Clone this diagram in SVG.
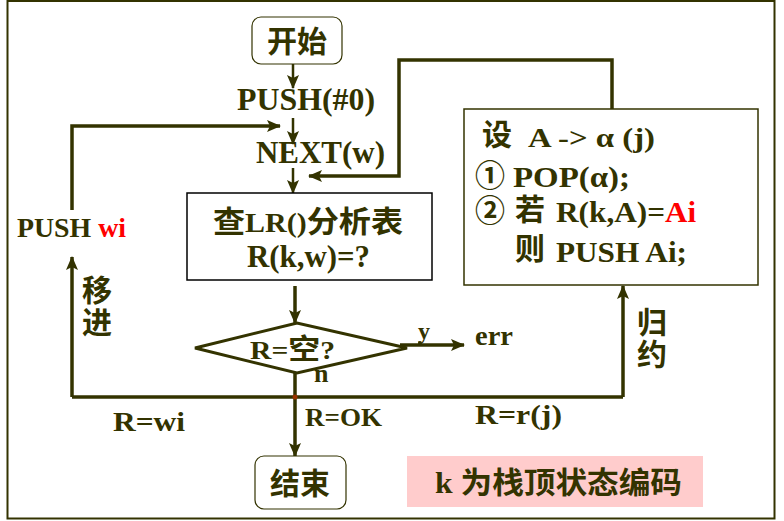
<svg xmlns="http://www.w3.org/2000/svg" width="784" height="521" viewBox="0 0 784 521">
<defs>
<marker id="ah" markerUnits="userSpaceOnUse" markerWidth="14" markerHeight="12" viewBox="0 0 14 12" refX="13" refY="6" orient="auto">
<path d="M0,0 L14,6 L0,12 L3,6 Z" fill="#333300"/>
</marker>
<style>
.t{font-family:"Liberation Serif","Noto Sans CJK SC",serif;font-weight:bold;fill:#333300}
.c{font-family:"Noto Sans CJK SC","Noto Sans CJK JP",sans-serif;font-weight:bold;fill:#333300}
.v{writing-mode:vertical-rl;letter-spacing:2px}
.red{fill:#FF0000}
.ln{fill:none;stroke:#333300;stroke-width:3.5}
.ar{fill:none;stroke:#333300;stroke-width:3.5;marker-end:url(#ah)}
.tm{fill:none;stroke:#333300;stroke-width:2.5;marker-end:url(#ah)}
</style>
</defs>
<rect x="0" y="0" width="784" height="521" fill="#ffffff"/>
<rect x="7.5" y="1" width="767" height="517.5" fill="none" stroke="#333300" stroke-width="2"/>

<g id="connectors">
<line class="tm" x1="293" y1="64" x2="293" y2="88"/>
<line class="tm" x1="293" y1="118" x2="293" y2="144"/>
<line class="tm" x1="293" y1="168" x2="293" y2="193"/>
<polyline class="ar" points="72,210 72,126 280,126"/>
<polyline class="ln" points="72,397 623,397"/>
<polyline class="ar" points="72,397 72,257"/>
<polyline class="ar" points="623,397 623,286"/>
<polyline class="ar" points="612,109 612,60 399,60 399,176 309,176"/>
<line class="ar" x1="295" y1="286" x2="295" y2="323"/>
<line class="ar" x1="400" y1="345" x2="464" y2="345"/>
<line class="ar" x1="295" y1="373" x2="295" y2="456"/>
<circle cx="295" cy="397" r="2.5" fill="#993300"/>
<circle cx="420" cy="343" r="2" fill="#333300"/>
</g>

<g id="start">
<rect x="252" y="17" width="90" height="47" rx="9" fill="#ffffff" stroke="#333300" stroke-width="1.2"/>
<text class="c" x="297" y="52" font-size="30" text-anchor="middle">开始</text>
</g>

<g id="push0">
<text class="t" x="237" y="110" font-size="31" textLength="138" lengthAdjust="spacingAndGlyphs">PUSH(#0)</text>
</g>

<g id="next">
<text class="t" x="256" y="163" font-size="31" textLength="129" lengthAdjust="spacingAndGlyphs">NEXT(w)</text>
</g>

<g id="lookup">
<rect x="187" y="193" width="245" height="87" fill="#ffffff" stroke="#000000" stroke-width="1.5"/>
<text class="t" x="213" y="232" font-size="30" textLength="190" lengthAdjust="spacingAndGlyphs"><tspan class="c">查</tspan><tspan font-size="28">LR()</tspan><tspan class="c">分析表</tspan></text>
<text class="t" x="247" y="267" font-size="31" textLength="123" lengthAdjust="spacingAndGlyphs">R(k,w)=?</text>
</g>

<g id="decision">
<polygon points="195,348 297,323 407,348 297,373" fill="#ffffff" stroke="#333300" stroke-width="3"/>
<text class="t" x="250" y="359" font-size="26" textLength="85" lengthAdjust="spacingAndGlyphs">R=<tspan class="c" font-size="28">空</tspan>?</text>
</g>

<g id="reduce">
<rect x="464" y="109" width="294" height="176" fill="#ffffff" stroke="#333300" stroke-width="1.5"/>
<text class="c" x="482" y="145" font-size="30">设</text>
<text class="t" x="528" y="147" font-size="27" textLength="127" lengthAdjust="spacingAndGlyphs">A -&gt; α (j)</text>
<text class="c" x="475" y="186" font-size="30">①</text>
<text class="t" x="513" y="187" font-size="30" textLength="117" lengthAdjust="spacingAndGlyphs">POP(α);</text>
<text class="c" x="475" y="221" font-size="30">②</text>
<text class="c" x="515" y="220" font-size="30">若</text>
<text class="t" x="556" y="222" font-size="30" textLength="109" lengthAdjust="spacingAndGlyphs">R(k,A)=</text>
<text class="t red" x="665" y="222" font-size="30" textLength="31" lengthAdjust="spacingAndGlyphs">Ai</text>
<text class="c" x="515" y="259" font-size="30">则</text>
<text class="t" x="556" y="262" font-size="30" textLength="131" lengthAdjust="spacingAndGlyphs">PUSH Ai;</text>
</g>

<g id="end">
<rect x="255" y="456" width="91" height="53" rx="9" fill="#ffffff" stroke="#333300" stroke-width="1.2"/>
<text class="c" x="300" y="494" font-size="30" text-anchor="middle">结束</text>
</g>

<g id="note">
<rect x="407" y="456" width="296" height="51" fill="#FFCCCC"/>
<text class="t" x="435" y="493" font-size="30" textLength="247" lengthAdjust="spacingAndGlyphs">k <tspan class="c">为栈顶状态编码</tspan></text>
</g>

<g id="labels">
<text class="t" x="17" y="237" font-size="27" textLength="109" lengthAdjust="spacingAndGlyphs">PUSH <tspan class="red">wi</tspan></text>
<text class="c v" x="97" y="275" font-size="30">移进</text>
<text class="c v" x="652" y="307" font-size="30">归约</text>
<text class="t" x="418" y="339" font-size="24">y</text>
<text class="t" x="475" y="345" font-size="28" textLength="38" lengthAdjust="spacingAndGlyphs">err</text>
<text class="t" x="314" y="382" font-size="26">n</text>
<text class="t" x="305" y="426" font-size="26" textLength="77" lengthAdjust="spacingAndGlyphs">R=OK</text>
<text class="t" x="475" y="424" font-size="28" textLength="87" lengthAdjust="spacingAndGlyphs">R=r(j)</text>
<text class="t" x="113" y="431" font-size="28" textLength="72" lengthAdjust="spacingAndGlyphs">R=wi</text>
</g>
</svg>
